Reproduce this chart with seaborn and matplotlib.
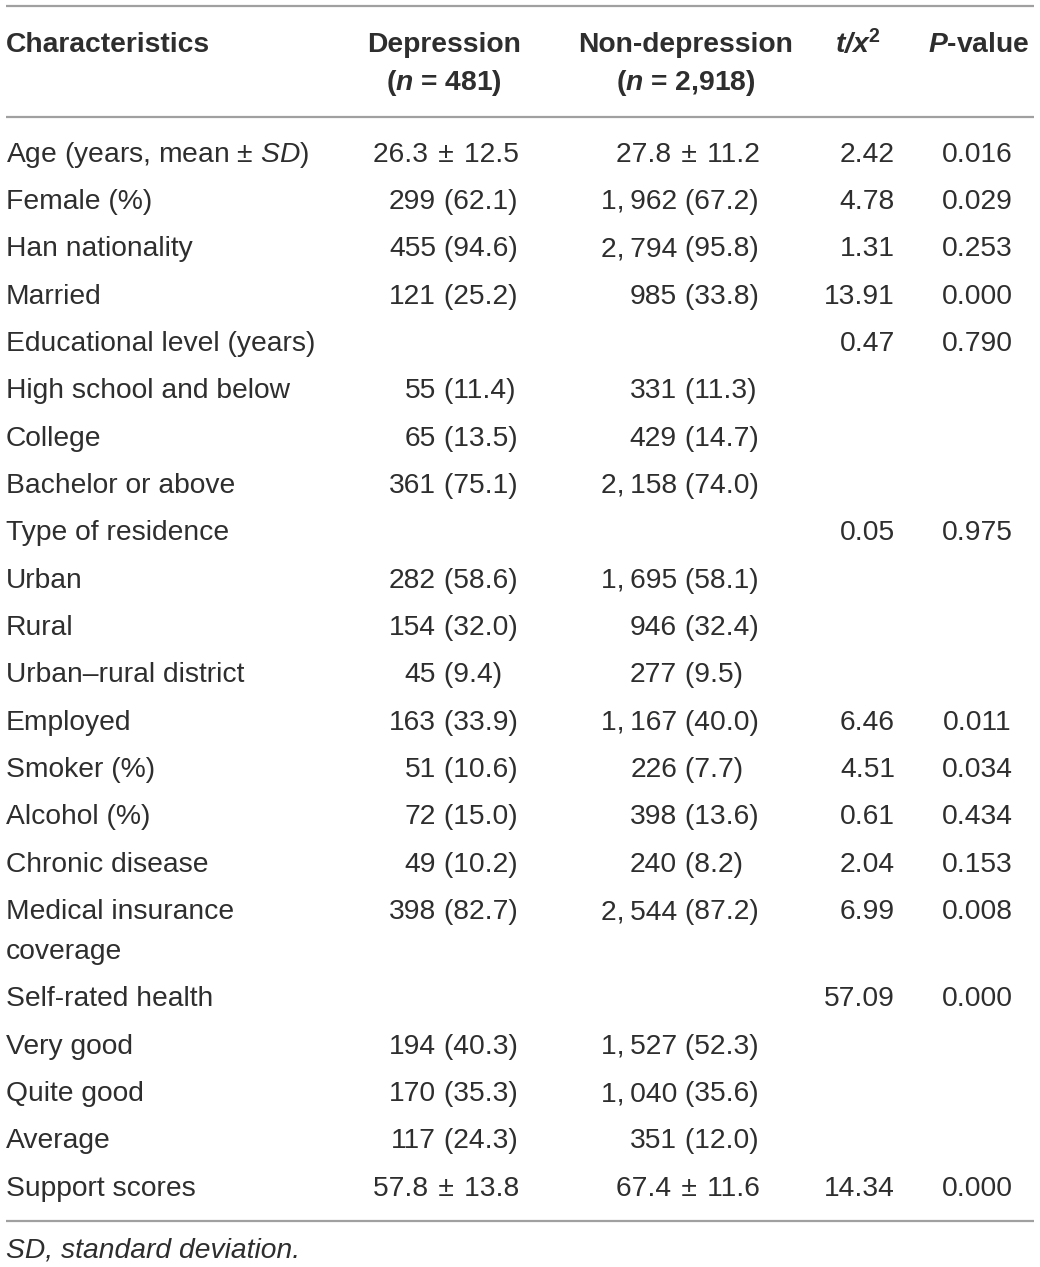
import numpy as np
import pandas as pd
import seaborn as sns
import matplotlib.pyplot as plt

# %% data
labels = ["Age (years, mean ± $\\mathit{SD}$)", "Female (%)", "Han nationality", "Married",
          "Educational level (years)", "High school and below", "College", "Bachelor or above",
          "Type of residence", "Urban", "Rural", "Urban–rural district", "Employed",
          "Smoker (%)", "Alcohol (%)", "Chronic disease", "Medical insurance\ncoverage",
          "Self-rated health", "Very good", "Quite good", "Average", "Support scores"]
depression = ["26.3 \u200a± \u200a12.5", "299 (62.1)", "455 (94.6)", "121 (25.2)", "", "55 (11.4)",
              "65 (13.5)", "361 (75.1)", "", "282 (58.6)", "154 (32.0)", "45 (9.4)",
              "163 (33.9)", "51 (10.6)", "72 (15.0)", "49 (10.2)", "398 (82.7)", "",
              "194 (40.3)", "170 (35.3)", "117 (24.3)", "57.8 \u200a± \u200a13.8"]
non_depression = ["27.8 \u200a± \u200a11.2", "1,\u2009962 (67.2)", "2,\u2009794 (95.8)", "985 (33.8)", "",
                  "331 (11.3)", "429 (14.7)", "2,\u2009158 (74.0)", "", "1,\u2009695 (58.1)",
                  "946 (32.4)", "277 (9.5)", "1,\u2009167 (40.0)", "226 (7.7)", "398 (13.6)",
                  "240 (8.2)", "2,\u2009544 (87.2)", "", "1,\u2009527 (52.3)", "1,\u2009040 (35.6)",
                  "351 (12.0)", "67.4 \u200a± \u200a11.6"]
t_stat = ["2.42", "4.78", "1.31", "13.91", "0.47", "", "", "", "0.05", "", "", "",
          "6.46", "4.51", "0.61", "2.04", "6.99", "57.09", "", "", "", "14.34"]
p_value = ["0.016", "0.029", "0.253", "0.000", "0.790", "", "", "", "0.975", "", "", "",
           "0.011", "0.034", "0.434", "0.153", "0.008", "0.000", "", "", "", "0.000"]
headers = ["Characteristics", "Depression\n($\\mathbfit{n}$ = 481)",
           "Non-depression\n($\\mathbfit{n}$ = 2,918)",
           "$\\mathbfit{t/x}^{\\mathbf{2}}$", "$\\mathbfit{P}$-value"]
footnote = "SD, standard deviation."

# %% style
sns.set_theme(style="white")
plt.rcParams['font.family'] = ['Liberation Sans', 'DejaVu Sans']
plt.rcParams['mathtext.fontset'] = 'custom'
plt.rcParams['mathtext.rm'] = 'Liberation Sans'
plt.rcParams['mathtext.it'] = 'Liberation Sans:italic'
plt.rcParams['mathtext.bf'] = 'Liberation Sans:bold'
plt.rcParams['mathtext.bfit'] = 'Liberation Sans:bold:italic'

txt = '#2e2e2e'
rule = '#a0a0a0'
fs = 20.3
dy = 2.5  # small nudge so text sits where the reference rows are

fig = plt.figure(figsize=(10.4, 12.67), dpi=100)
ax = fig.add_axes([0, 0, 1, 1])
ax.set_xlim(0, 1040)
ax.set_ylim(1267, 0)
ax.axis('off')

# rules
for y in [6, 117, 1221]:
    ax.plot([6, 1034], [y, y], color=rule, lw=1.6, solid_capstyle='butt')

# header
head_y = [42 + dy, 80 + dy]
ax.text(6, head_y[0], headers[0], ha='left', va='center', fontsize=fs, fontweight='bold', color=txt)
for h, xc in zip(headers[1:3], [444, 686]):
    for line, y in zip(h.split('\n'), head_y):
        ax.text(xc, y, line, ha='center', va='center', fontsize=fs, fontweight='bold', color=txt)
ax.text(835, head_y[0], headers[3], ha='left', va='center', fontsize=fs, fontweight='bold', color=txt)
ax.text(979, head_y[0], headers[4], ha='center', va='center', fontsize=fs, fontweight='bold', color=txt)

# body
def put_count(x_anchor, x_right, y, s):
    if not s:
        return
    if '(' in s:
        num, rest = s.split(' (')
        ax.text(x_anchor, y, num, ha='right', va='center', fontsize=fs, color=txt)
        ax.text(x_anchor, y, ' (' + rest, ha='left', va='center', fontsize=fs, color=txt)
    else:
        ax.text(x_right, y, s, ha='right', va='center', fontsize=fs, color=txt)

y = 152 + dy
for lab, d, n, t, p in zip(labels, depression, non_depression, t_stat, p_value):
    lines = lab.split('\n')
    for k, line in enumerate(lines):
        ax.text(6, y + 40 * k, line, ha='left', va='center', fontsize=fs, color=txt)
    put_count(436, 519, y, d)
    put_count(677, 760, y, n)
    if t:
        ax.text(895, y, t, ha='right', va='center', fontsize=fs, color=txt)
    if p:
        ax.text(977, y, p, ha='center', va='center', fontsize=fs, color=txt)
    y += 47.35 + 40 * (len(lines) - 1)

ax.text(6, 1248 + dy, footnote, ha='left', va='center', fontsize=fs, style='italic', color=txt)

fig.savefig('out.png', dpi=100)
